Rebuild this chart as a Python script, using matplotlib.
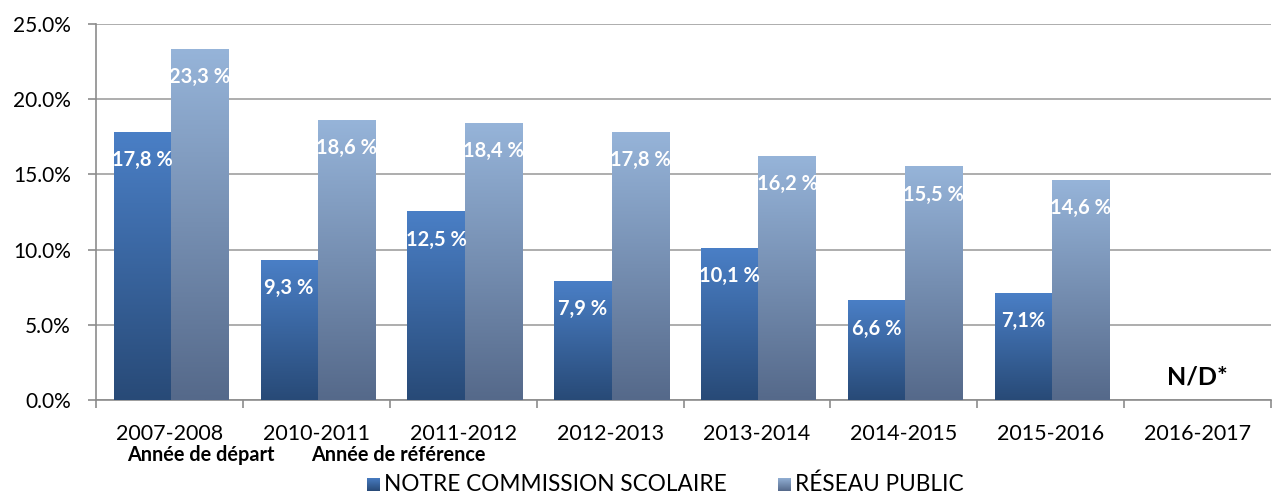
import numpy as np
import matplotlib.pyplot as plt
from matplotlib.colors import LinearSegmentedColormap

plt.rcParams['font.family'] = ['Lato', 'DejaVu Sans']

# Données
annees = ["2007-2008", "2010-2011", "2011-2012", "2012-2013",
          "2013-2014", "2014-2015", "2015-2016", "2016-2017"]
cs_vals = [17.8, 9.3, 12.5, 7.9, 10.1, 6.6, 7.1, np.nan]
reseau_vals = [23.3, 18.6, 18.4, 17.8, 16.2, 15.5, 14.6, np.nan]
cs_labels = ["17,8 %", "9,3 %", "12,5 %", "7,9 %", "10,1 %", "6,6 %", "7,1%"]
reseau_labels = ["23,3 %", "18,6 %", "18,4 %", "17,8 %", "16,2 %", "15,5 %", "14,6 %"]
sous_titres = [(0, "Année de départ"), (1, "Année de référence")]
series = ["NOTRE COMMISSION SCOLAIRE", "RÉSEAU PUBLIC"]

cmap_cs = LinearSegmentedColormap.from_list("cs", ["#284a77", "#4a7fc6"])
cmap_res = LinearSegmentedColormap.from_list("res", ["#55698a", "#96b4d9"])

fig = plt.figure(figsize=(12.73, 4.94), dpi=100)
ax = fig.add_axes([96 / 1273, 1 - 400 / 494, 1175 / 1273, 376 / 494])

x = np.arange(len(annees)) + 0.01
w = 0.39
b1 = ax.bar(x - w / 2, np.nan_to_num(cs_vals), w, color="none", zorder=3)
b2 = ax.bar(x + w / 2, np.nan_to_num(reseau_vals), w, color="none", zorder=3)

grad = np.linspace(0, 1, 256).reshape(-1, 1)
for bars, cm in [(b1, cmap_cs), (b2, cmap_res)]:
    for r in bars:
        h = r.get_height()
        if h <= 0:
            continue
        ax.imshow(grad, extent=[r.get_x(), r.get_x() + r.get_width(), 0, h],
                  origin="lower", aspect="auto", cmap=cm, zorder=3)

# étiquettes de données
for bars, labs in [(b1, cs_labels), (b2, reseau_labels)]:
    for r, lab in zip(bars, labs):
        ax.text(r.get_x() + r.get_width() / 2, r.get_height() - 1.85, lab,
                ha="center", va="center", color="white", fontsize=14.5,
                fontweight="bold", zorder=5)

ax.text(7.0, 1.5, "N/D*", ha="center", va="center", fontsize=18,
        fontweight="bold", color="black")

ax.set_xlim(-0.5, len(annees) - 0.5)
ax.set_ylim(0, 25)
ax.set_yticks(np.arange(0, 26, 5))
ax.set_yticklabels([f"{v:.1f}%" for v in np.arange(0, 26, 5)])
ax.yaxis.grid(True, color="#a0a0a0", linewidth=1.2, zorder=0)
ax.set_axisbelow(True)

ax.set_xticks(np.arange(-0.5, len(annees)), minor=False)
ax.set_xticklabels([])
ax.set_xticks(np.arange(len(annees)), minor=True)
ax.set_xticklabels(annees, minor=True)
ax.tick_params(axis="x", which="minor", length=0, pad=17, labelsize=15.5)
ax.tick_params(axis="x", which="major", length=6, color="#8c8c8c", width=1.2)
ax.tick_params(axis="y", length=6, color="#8c8c8c", width=1.2, labelsize=15, pad=12)

for (i, t), dx in zip(sous_titres, [0.215, 0.556]):
    ax.text(i + dx, -3.65, t, ha="center", va="center", fontsize=14.3,
            fontweight="bold", clip_on=False)

for s in ["top", "right"]:
    ax.spines[s].set_visible(False)
for s in ["left", "bottom"]:
    ax.spines[s].set_color("#8c8c8c")
    ax.spines[s].set_linewidth(1.2)

# légende
leg_y = 1 - 491 / 494
for (xp, txt, cm) in [(367, series[0], cmap_cs), (778, series[1], cmap_res)]:
    lax = fig.add_axes([xp / 1273, leg_y, 13 / 1273, 13 / 494])
    lax.imshow(grad, origin="lower", aspect="auto", cmap=cm)
    lax.axis("off")
    fig.text((xp + 17) / 1273, 1 - 484 / 494, txt, ha="left", va="center",
             fontsize=16.3)

fig.savefig("out.png", dpi=100)
